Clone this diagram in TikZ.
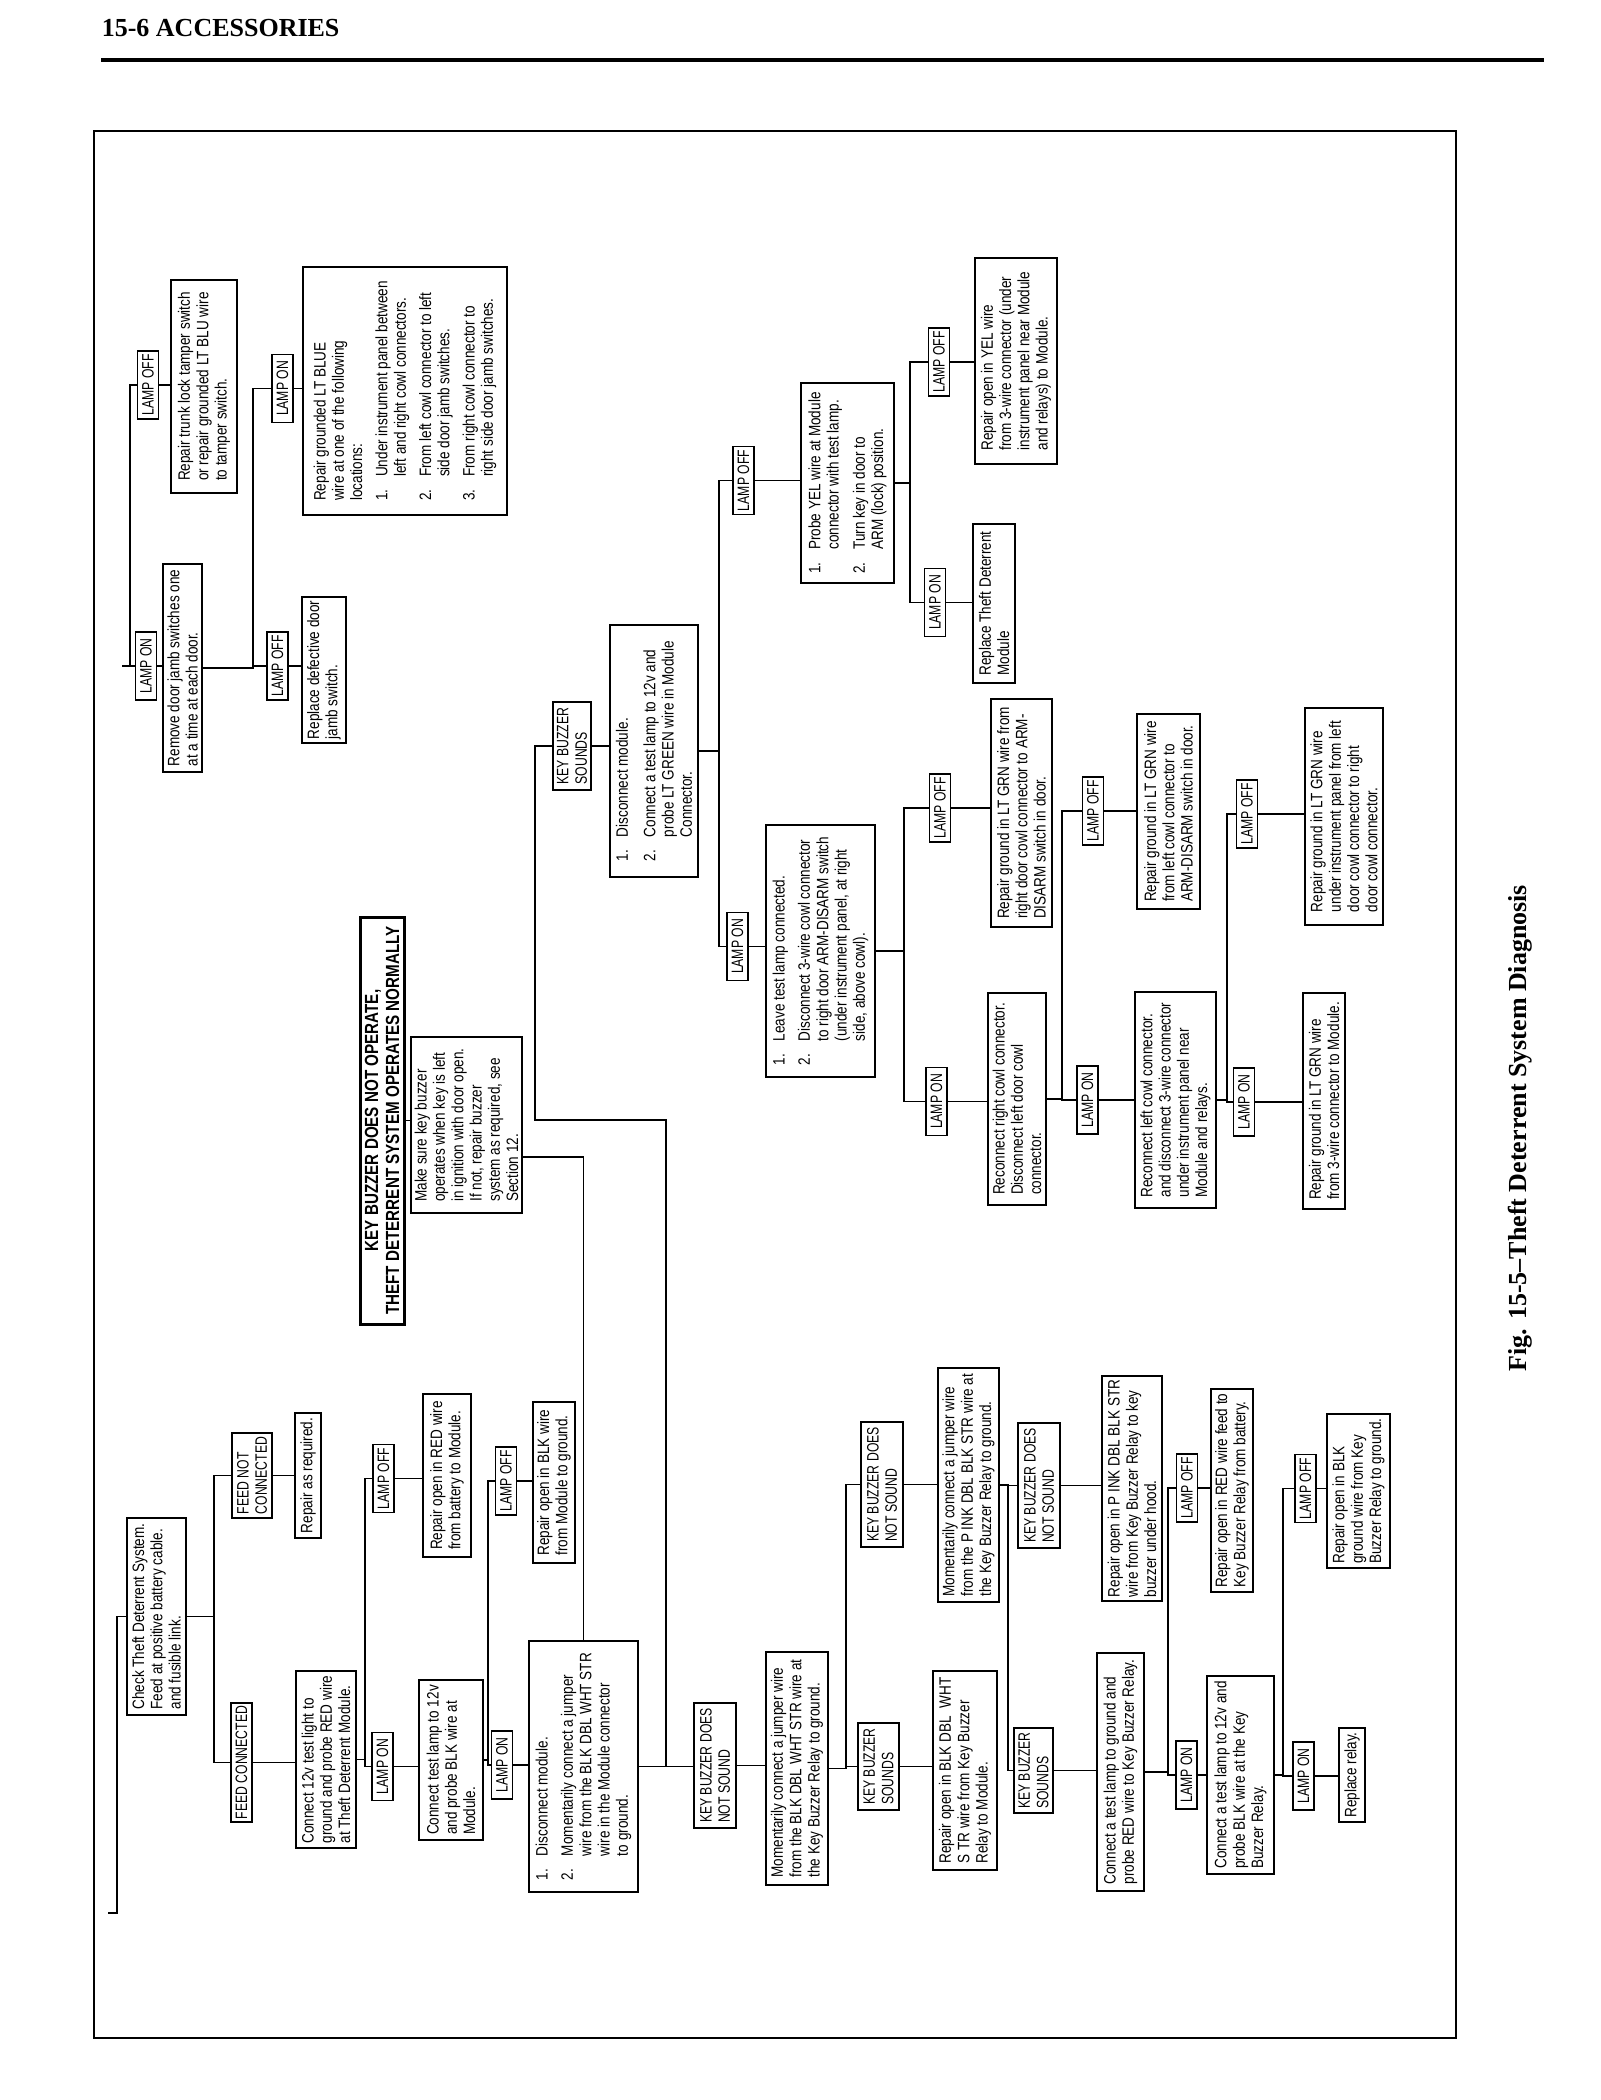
\documentclass[tikz,border=0pt]{standalone}
\usepackage{fontspec}
\newfontfamily\boxfam{Liberation Sans}[FakeStretch=0.82]
\newfontfamily\capfam{Liberation Sans}[FakeStretch=0.74]
\newfontfamily\rootfam{Liberation Sans}[FakeStretch=0.8]
\newfontfamily\serfam{Liberation Serif}
\newcommand{\numlab}[1]{\makebox[24pt][l]{#1.}}
\newcommand{\numind}{\hspace*{24pt}}

\begin{document}
\begin{tikzpicture}[x=1pt, y=-1pt, line width=1.6pt,
  txtbox/.style={draw, rotate=90, align=left, inner xsep=4pt, inner ysep=1pt, font=\boxfam\fontsize{16.5}{18.3}\selectfont},
  capbox/.style={txtbox, font=\capfam\fontsize{16.5}{18.3}\selectfont, inner xsep=3pt},
  lampbox/.style={capbox, sz={68}{21}, inner xsep=2pt, inner ysep=0pt},
  sz/.style 2 args={minimum width=#1, minimum height=#2}]

      \fill[white] (0,0) rectangle (1600,2100);
      \useasboundingbox (0,0) rectangle (1600,2100);

      %% page head, frame, caption
      \node[anchor=base west, inner sep=0pt, font=\serfam\bfseries\fontsize{26}{30}\selectfont] (head) at (101,37) {15-6 ACCESSORIES};
      \draw[line width=3.5pt] (101,60) -- (1544,60);
      \draw[line width=2.5pt] (94,131) rectangle (1456,2038);
      \node[rotate=90, font=\serfam\bfseries\fontsize{26}{30}\selectfont] (caption) at (1520,1128) {Fig. 15-5–Theft Deterrent System Diagnosis};

      %% tamper and door jamb
      \coordinate (in2) at (122,666);
      \node[lampbox] (offTamper) at (148,385) {LAMP OFF};
      \node[lampbox] (onDoor) at (146,666) {LAMP ON};
      \node[txtbox, sz={213}{66}] (tamper) at (204,386.5) {Repair trunk lock tamper switch\\or repair grounded LT BLU wire\\to tamper switch.};
      \node[txtbox, sz={208}{39}] (door) at (182.5,668) {Remove door jamb switches one\\at a time at each door.};
      \node[lampbox] (offJamb) at (277.5,666) {LAMP OFF};
      \node[lampbox] (onBlue) at (282.5,388.5) {LAMP ON};
      \node[txtbox, sz={146}{44}] (jamb) at (324,670) {Replace defective door\\jamb switch.};
      \node[txtbox, sz={248}{204}] (blue) at (405,391) {Repair grounded LT BLUE\\wire at one of the following\\locations:\\[7pt]\numlab{1}Under instrument panel between\\\numind left and right cowl connectors.\\[7pt]\numlab{2}From left cowl connector to left\\\numind side door jamb switches.\\[7pt]\numlab{3}From right cowl connector to\\\numind right side door jamb switches.};

      %% start of the chart
      \node[draw, line width=3pt, rotate=90, align=center, inner sep=1pt, sz={407}{44}, font=\rootfam\bfseries\fontsize{19}{21}\selectfont] (root) at (382,1120.5) {KEY BUZZER DOES NOT OPERATE,\\THEFT DETERRENT SYSTEM OPERATES NORMALLY};
      \node[txtbox, sz={176}{111}] (keycheck) at (466.5,1125) {Make sure key buzzer\\operates when key is left\\in ignition with door open.\\If not, repair buzzer\\system as required, see\\Section 12.};

      %% key buzzer sounds
      \node[capbox, sz={88}{38}] (soundA) at (572,746) {KEY BUZZER\\SOUNDS};
      \node[txtbox, sz={252}{88}] (ltgrn) at (654,751) {\numlab{1}Disconnect module.\\[9pt]\numlab{2}Connect a test lamp to 12v and\\\numind probe LT GREEN wire in Module\\\numind Connector.};
      \node[lampbox] (offYelA) at (743.5,480.5) {LAMP OFF};
      \node[lampbox] (onLeave) at (737.5,946.5) {LAMP ON};
      \node[txtbox, sz={200}{93}] (yel) at (847.5,483) {\numlab{1}Probe YEL wire at Module\\\numind connector with test lamp.\\[8pt]\numlab{2}Turn key in door to\\\numind ARM (lock) position.};
      \node[lampbox] (offYelB) at (939,362) {LAMP OFF};
      \node[lampbox] (onYel) at (935,602.5) {LAMP ON};
      \node[txtbox, sz={206}{82}] (yelopen) at (1016,361) {Repair open in YEL wire\\from 3-wire connector (under\\instrument panel near Module\\and relays) to Module.};
      \node[txtbox, sz={159}{42}] (module) at (994,603.5) {Replace Theft Deterrent\\Module};
      \node[txtbox, sz={252}{109}] (leave) at (820.5,951) {\numlab{1}Leave test lamp connected.\\[7pt]\numlab{2}Disconnect 3-wire cowl connector\\\numind to right door ARM-DISARM switch\\\numind (under instrument panel, at right\\\numind side, above cowl).};
      \node[lampbox] (offGrnA) at (940,808) {LAMP OFF};
      \node[lampbox] (onGrnA) at (936.5,1101.5) {LAMP ON};
      \node[txtbox, sz={228}{61}] (grnA) at (1021.5,813) {Repair ground in LT GRN wire from\\right door cowl connector to ARM-\\DISARM switch in door.};
      \node[txtbox, sz={212}{58}] (rcR) at (1017,1099) {Reconnect right cowl connector.\\Disconnect left door cowl\\connector.};
      \node[lampbox] (offGrnB) at (1093,811) {LAMP OFF};
      \node[lampbox] (onGrnB) at (1087.5,1100) {LAMP ON};
      \node[txtbox, sz={195}{63}] (grnB) at (1168.5,811.5) {Repair ground in LT GRN wire\\from left cowl connector to\\ARM-DISARM switch in door.};
      \node[txtbox, sz={216}{81}] (rcL) at (1175.5,1100) {Reconnect left cowl connector.\\and disconnect 3-wire connector\\under instrument panel near\\Module and relays.};
      \node[lampbox] (offGrnC) at (1247,814) {LAMP OFF};
      \node[lampbox] (onGrnC) at (1244,1102) {LAMP ON};
      \node[txtbox, sz={217}{78}] (grnC) at (1344,816.5) {Repair ground in LT GRN wire\\under instrument panel from left\\door cowl connector to right\\door cowl connector.};
      \node[txtbox, sz={216}{42}] (grnD) at (1324,1101) {Repair ground in LT GRN wire\\from 3-wire connector to Module.};

      %% feed check
      \coordinate (in1) at (108,1913);
      \node[txtbox, sz={197}{59}] (check) at (156.5,1616.5) {Check Theft Deterrent System.\\Feed at positive battery cable.\\and fusible link.};
      \node[capbox, sz={85}{40}] (fnc) at (252,1475.5) {FEED NOT\\CONNECTED};
      \node[txtbox, sz={125}{26}] (fixit) at (308,1475.5) {Repair as required.};
      \node[capbox, sz={119}{21}, inner ysep=0pt] (fc) at (241.5,1762.5) {FEED CONNECTED};
      \node[txtbox, sz={177}{60}] (light) at (326,1759.5) {Connect 12v test light to\\ground and probe RED wire\\at Theft Deterrent Module.};
      \node[lampbox] (offRed) at (383.5,1478.5) {LAMP OFF};
      \node[lampbox] (onRed) at (382.5,1766.5) {LAMP ON};
      \node[txtbox, sz={163}{48}] (redopen) at (447,1475.5) {Repair open in RED wire\\from battery to Module.};
      \node[txtbox, sz={160}{64}] (blkprobe) at (451,1760) {Connect test lamp to 12v\\and probe BLK wire at\\Module.};
      \node[lampbox] (offBlk) at (506,1481) {LAMP OFF};
      \node[lampbox] (onBlk) at (502,1765) {LAMP ON};
      \node[txtbox, sz={161}{42}] (blkopen) at (554,1482.5) {Repair open in BLK wire\\from Module to ground.};
      \node[txtbox, sz={251}{109}] (discon) at (583.5,1766.5) {\numlab{1}Disconnect module.\\[7pt]\numlab{2}Momentarily connect a jumper\\\numind wire from the BLK DBL WHT STR\\\numind wire in the Module connector\\\numind to ground.};

      %% key buzzer relay
      \node[capbox, sz={125}{42}] (nosoundA) at (715,1765.5) {KEY BUZZER DOES\\NOT SOUND};
      \node[txtbox, sz={233}{62}] (jumpA) at (797,1768.5) {Momentarily connect a jumper wire\\from the BLK DBL WHT STR wire at\\the Key Buzzer Relay to ground.};
      \node[capbox, sz={125}{42}] (nosoundB) at (882,1484.5) {KEY BUZZER DOES\\NOT SOUND};
      \node[capbox, sz={87}{41}] (soundB) at (878.5,1766.5) {KEY BUZZER\\SOUNDS};
      \node[txtbox, sz={234}{61}] (jumpB) at (968.5,1485) {Momentarily connect a jumper wire\\from the P INK DBL BLK STR wire at\\the Key Buzzer Relay to ground.};
      \node[txtbox, sz={199}{64}] (dblopen) at (965,1770.5) {Repair open in BLK DBL\ \ WHT\\S TR wire from Key Buzzer\\Relay to Module.};
      \node[capbox, sz={125}{42}] (nosoundC) at (1039,1485.5) {KEY BUZZER DOES\\NOT SOUND};
      \node[capbox, sz={85}{39}] (soundC) at (1033.5,1770.5) {KEY BUZZER\\SOUNDS};
      \node[txtbox, sz={223}{60}] (pinkopen) at (1132,1488.5) {Repair open in P INK DBL BLK STR\\wire from Key Buzzer Relay to key\\buzzer under hood.};
      \node[txtbox, sz={238}{47}] (relayred) at (1120.5,1772) {Connect a test lamp to ground and\\probe RED wire to Key Buzzer Relay.};
      \node[lampbox] (offRly) at (1187,1488) {LAMP OFF};
      \node[lampbox] (onRly) at (1186.5,1775) {LAMP ON};
      \node[txtbox, sz={203}{42}] (feedopen) at (1232,1490.5) {Repair open in RED wire feed to\\Key Buzzer Relay from battery.};
      \node[txtbox, sz={198}{67}] (relayblk) at (1240.5,1775) {Connect a test lamp to 12v and\\probe BLK wire at the Key\\Buzzer Relay.};
      \node[lampbox] (offGnd) at (1305.5,1488.5) {LAMP OFF};
      \node[lampbox] (onGnd) at (1303.5,1776) {LAMP ON};
      \node[txtbox, sz={154}{63}] (gndopen) at (1358.5,1491) {Repair open in BLK\\ground wire from Key\\Buzzer Relay to ground.};
      \node[txtbox, sz={94}{26}] (relay) at (1352,1775) {Replace relay.};

      %% lines
      \draw (in2) -- (onDoor.north);
      \draw (in2) ++(8,0) |- (offTamper.north);
      \draw (offTamper.south) -- (offTamper.south -| tamper.north);
      \draw (onDoor.south) -- (onDoor.south -| door.north);
      \draw (door.south) -- ++(50,0) |- (offJamb.north);
      \draw (door.south) -- ++(50,0) |- (onBlue.north);
      \draw (offJamb.south) -- (offJamb.south -| jamb.north);
      \draw (onBlue.south) -- (onBlue.south -| blue.north);

      \draw (root.south) -- (root.south -| keycheck.north);
      \draw ([yshift=-32pt]keycheck.south) -| (discon.east);
      \coordinate (jog) at (535,1120);
      \draw (discon.south) -- ++(27,0) |- (jog) |- (soundA.north);
      \draw (discon.south) -- (discon.south -| nosoundA.north);

      \draw (soundA.south) -- (soundA.south -| ltgrn.north);
      \draw (ltgrn.south) -- ++(20,0) |- (offYelA.north);
      \draw (ltgrn.south) -- ++(20,0) |- (onLeave.north);
      \draw (offYelA.south) -- (offYelA.south -| yel.north);
      \draw (yel.south) -- ++(15,0) |- (offYelB.north);
      \draw (yel.south) -- ++(15,0) |- (onYel.north);
      \draw (offYelB.south) -- (offYelB.south -| yelopen.north);
      \draw (onYel.south) -- (onYel.south -| module.north);
      \draw (onLeave.south) -- (onLeave.south -| leave.north);
      \draw (leave.south) -- ++(28,0) |- (offGrnA.north);
      \draw (leave.south) -- ++(28,0) |- (onGrnA.north);
      \draw (offGrnA.south) -- (offGrnA.south -| grnA.north);
      \draw (onGrnA.south) -- (onGrnA.south -| rcR.north);
      \draw (rcR.south) -- ++(15,0) |- (offGrnB.north);
      \draw (rcR.south) -- ++(15,0) |- (onGrnB.north);
      \draw (offGrnB.south) -- (offGrnB.south -| grnB.north);
      \draw (onGrnB.south) -- (onGrnB.south -| rcL.north);
      \draw (rcL.south) -- ++(10,0) |- (offGrnC.north);
      \draw (rcL.south) -- ++(10,0) |- (onGrnC.north);
      \draw (offGrnC.south) -- (offGrnC.south -| grnC.north);
      \draw (onGrnC.south) -- (onGrnC.south -| grnD.north);

      \draw (in1) -- ++(9,0) |- (check.north);
      \draw (check.south) -- ++(27,0) |- (fnc.north);
      \draw (check.south) -- ++(27,0) |- (fc.north);
      \draw (fnc.south) -- (fnc.south -| fixit.north);
      \draw (fc.south) -- (fc.south -| light.north);
      \draw (light.south) -- ++(8,0) |- (offRed.north);
      \draw (light.south) -- ++(8,0) |- (onRed.north);
      \draw (offRed.south) -- (offRed.south -| redopen.north);
      \draw (onRed.south) -- (onRed.south -| blkprobe.north);
      \draw (blkprobe.south) -- ++(4,0) |- (offBlk.north);
      \draw (blkprobe.south) -- ++(4,0) |- (onBlk.north);
      \draw (offBlk.south) -- (offBlk.south -| blkopen.north);
      \draw (onBlk.south) -- (onBlk.south -| discon.north);

      \draw (nosoundA.south) -- (nosoundA.south -| jumpA.north);
      \draw (jumpA.south) -- ++(17,0) |- (nosoundB.north);
      \draw (jumpA.south) -- ++(17,0) |- (soundB.north);
      \draw (nosoundB.south) -- (nosoundB.south -| jumpB.north);
      \draw (soundB.south) -- (soundB.south -| dblopen.north);
      \draw (jumpB.south) -- ++(8,0) |- (nosoundC.north);
      \draw (jumpB.south) -- ++(8,0) |- (soundC.north);
      \draw (nosoundC.south) -- (nosoundC.south -| pinkopen.north);
      \draw (soundC.south) -- (soundC.south -| relayred.north);
      \draw (relayred.south) -- ++(23,0) |- (offRly.north);
      \draw (relayred.south) -- ++(23,0) |- (onRly.north);
      \draw (offRly.south) -- (offRly.south -| feedopen.north);
      \draw (onRly.south) -- (onRly.south -| relayblk.north);
      \draw (relayblk.south) -- ++(8,0) |- (offGnd.north);
      \draw (relayblk.south) -- ++(8,0) |- (onGnd.north);
      \draw (offGnd.south) -- (offGnd.south -| gndopen.north);
      \draw (onGnd.south) -- (onGnd.south -| relay.north);

    \end{tikzpicture}
\end{document}
